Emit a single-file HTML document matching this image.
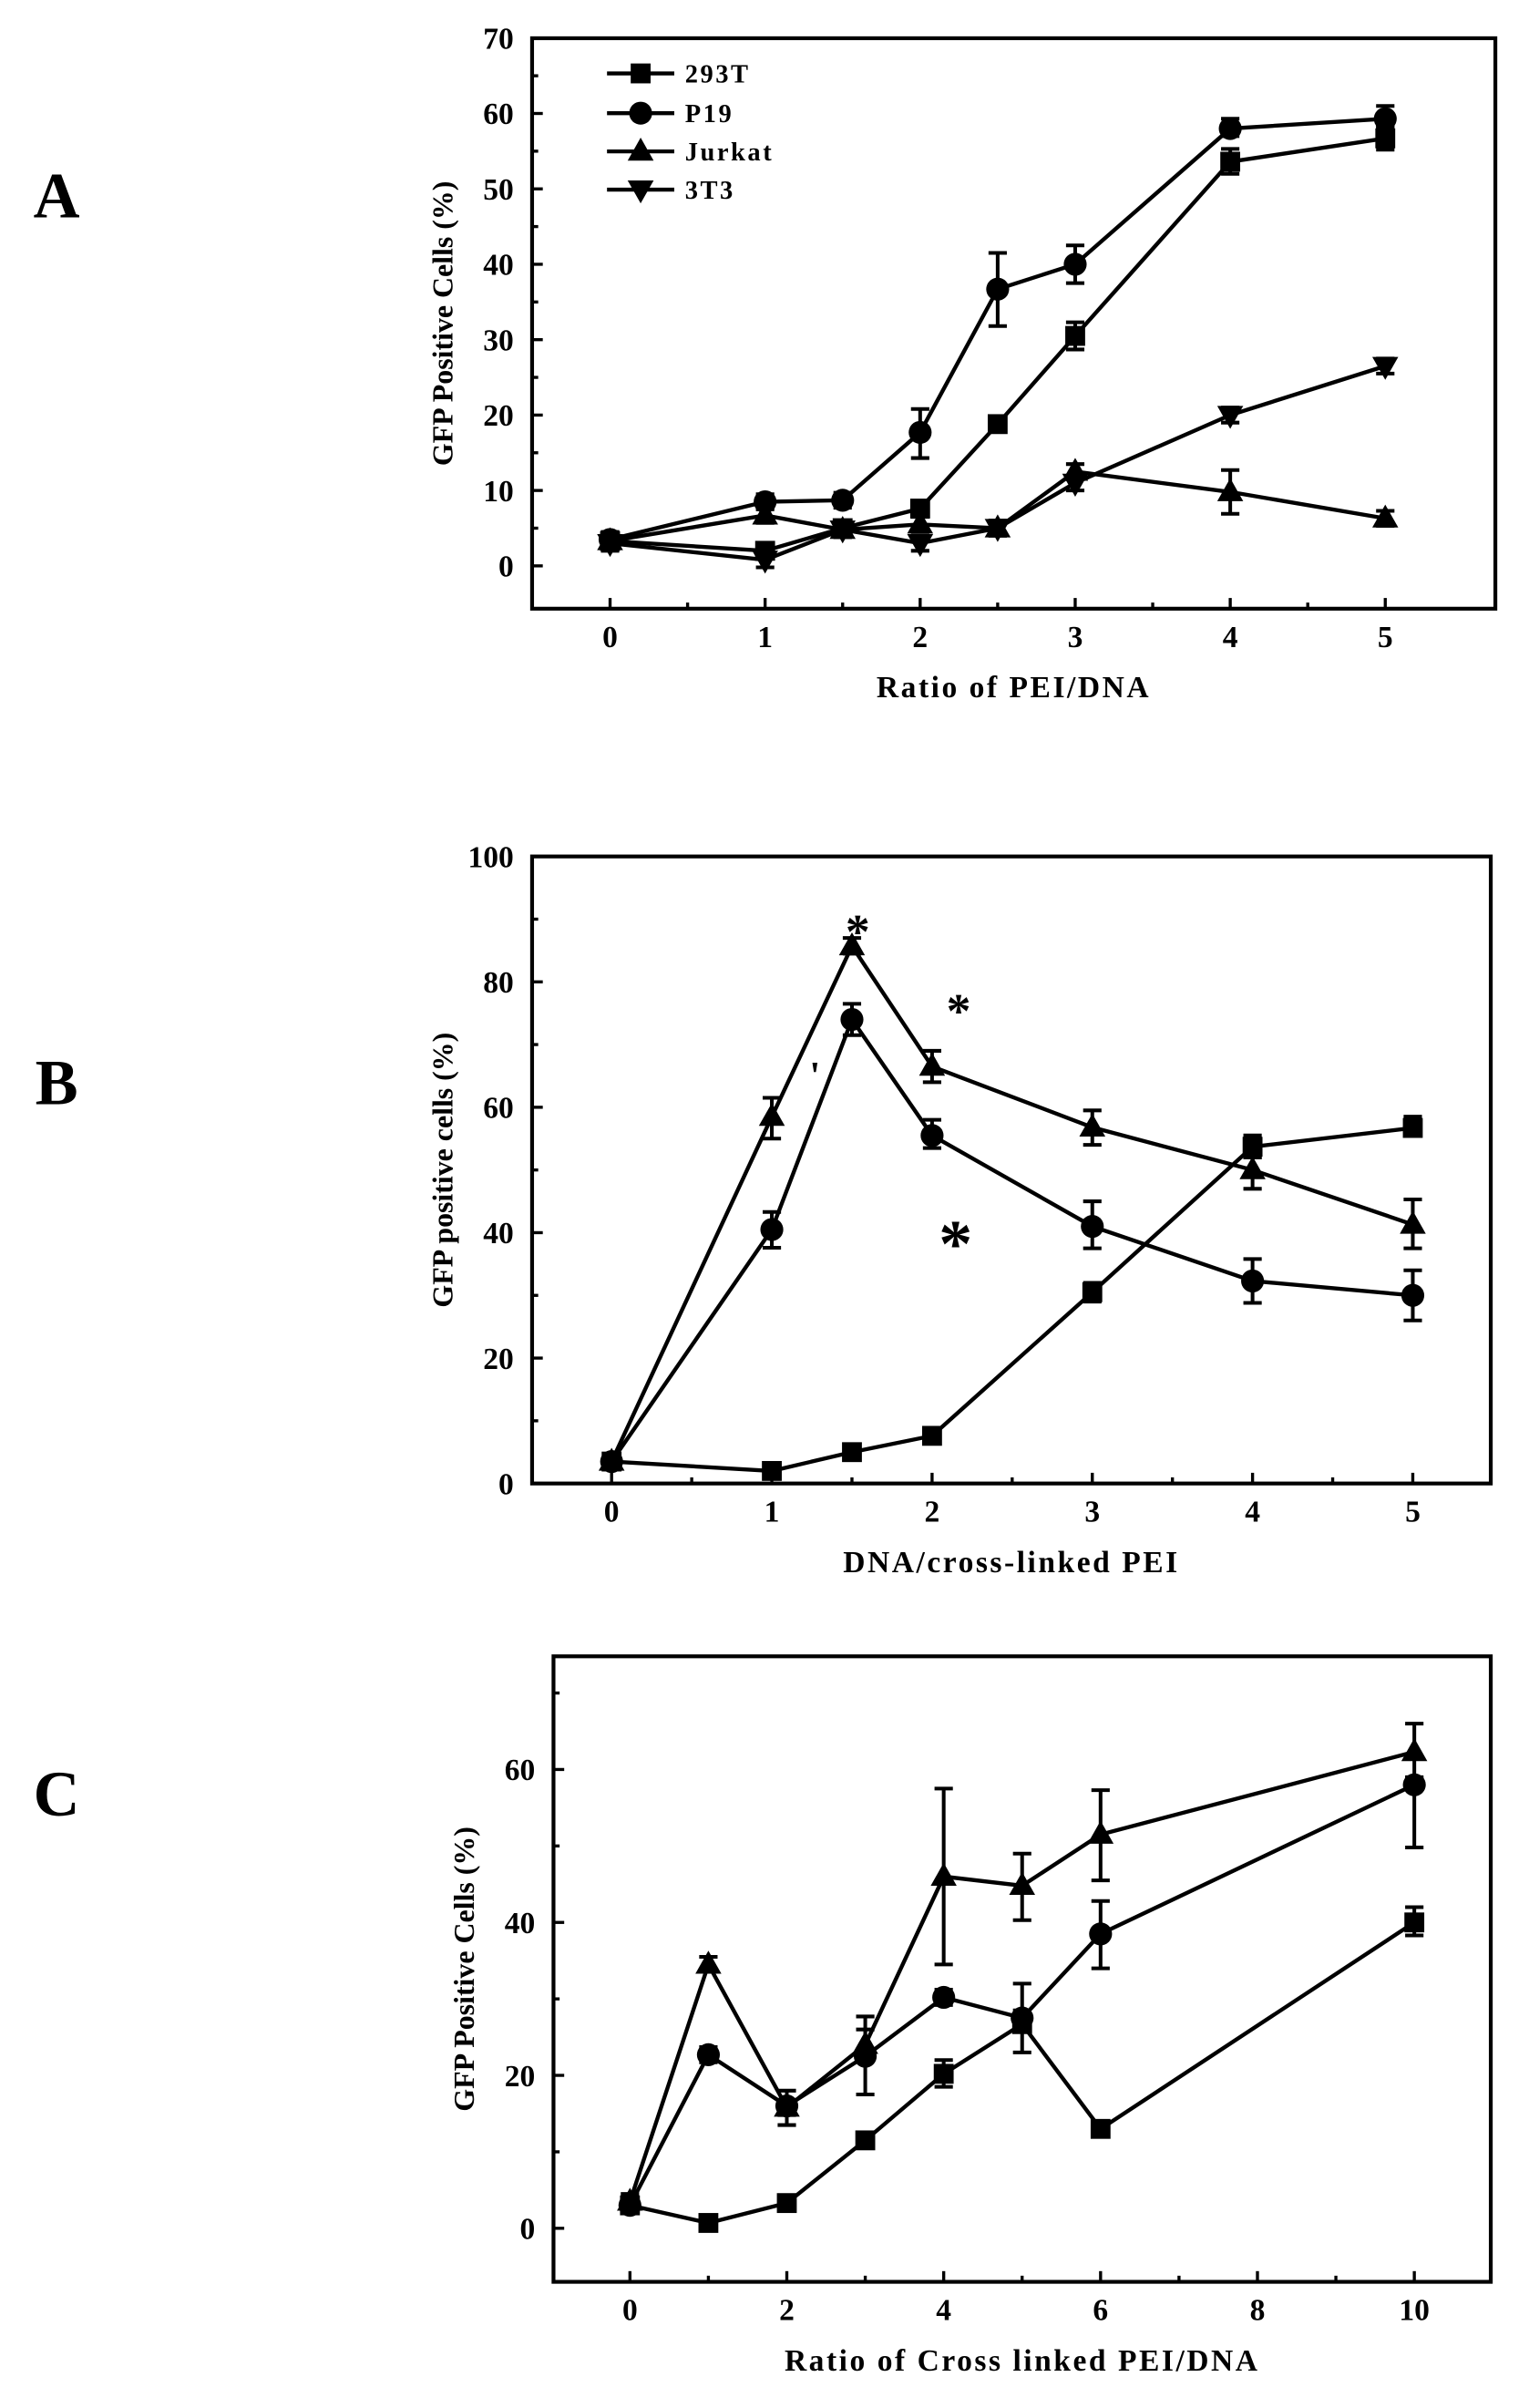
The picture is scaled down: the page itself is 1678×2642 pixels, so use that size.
<!DOCTYPE html>
<html><head><meta charset="utf-8"><style>
html,body{margin:0;padding:0;background:#fff}
svg{display:block}
text{font-family:"Liberation Serif",serif;font-weight:bold;fill:#000}
</style></head><body>
<svg id="s" width="1678" height="2642" viewBox="0 0 1000 1574.5" preserveAspectRatio="none" xmlns="http://www.w3.org/2000/svg">
<rect width="1000" height="1574.5" fill="#fff"/>
<text x="37" y="142" font-size="42" text-anchor="middle">A</text>
<text x="37" y="722" font-size="42" text-anchor="middle">B</text>
<text x="37" y="1187" font-size="42" text-anchor="middle">C</text>
</svg>
<script>
const NS="http://www.w3.org/2000/svg",S=document.getElementById('s');
function el(t,a,txt){const e=document.createElementNS(NS,t);for(const k in a)e.setAttribute(k,a[k]);if(txt!==undefined)e.textContent=txt;S.appendChild(e);return e;}
function marker(type,x,y){
 if(type=='sq')el('rect',{x:x-6.5,y:y-6.5,width:13,height:13,fill:'#000'});
 else if(type=='ci')el('circle',{cx:x,cy:y,r:7.5,fill:'#000'});
 else if(type=='up')el('polygon',{points:`${x},${y-9} ${x-8.5},${y+6} ${x+8.5},${y+6}`,fill:'#000'});
 else el('polygon',{points:`${x},${y+9} ${x-8.5},${y-6} ${x+8.5},${y-6}`,fill:'#000'});
}
function panel(p){
 const X=v=>p.x0+(v-p.xv0)*p.xs, Y=v=>p.y0-v*p.ys;
 el('rect',{x:p.L,y:p.T,width:p.R-p.L,height:p.B-p.T,fill:'none',stroke:'#000','stroke-width':2.5});
 p.yt.forEach(v=>{el('line',{x1:p.L,x2:p.L+7,y1:Y(v),y2:Y(v),stroke:'#000','stroke-width':2});el('text',{x:p.L-12,y:Y(v)+7,'font-size':20,'text-anchor':'end'},v);});
 p.ym.forEach(v=>el('line',{x1:p.L,x2:p.L+4,y1:Y(v),y2:Y(v),stroke:'#000','stroke-width':2}));
 p.xt.forEach(v=>{el('line',{x1:X(v),x2:X(v),y1:p.B,y2:p.B-7,stroke:'#000','stroke-width':2});el('text',{x:X(v),y:p.B+25,'font-size':20,'text-anchor':'middle'},v);});
 p.xm.forEach(v=>el('line',{x1:X(v),x2:X(v),y1:p.B,y2:p.B-4,stroke:'#000','stroke-width':2}));
 el('text',{x:(p.L+p.R)/2,y:p.B+58,'font-size':20,'text-anchor':'middle','letter-spacing':'1.5'},p.xl);
 el('text',{x:0,y:0,'font-size':19,'text-anchor':'middle',transform:`translate(${p.L-52},${(p.T+p.B)/2}) rotate(-90)`},p.yl);
 p.series.forEach(s=>{
  el('polyline',{points:s.d.map(d=>X(d[0])+','+Y(d[1])).join(' '),fill:'none',stroke:'#000','stroke-width':2.6});
  s.d.forEach(d=>{
   const lo=d[2]!==undefined?d[2]:d[1]-1,hi=d[3]!==undefined?d[3]:d[1]+1,x=X(d[0]);
   el('line',{x1:x,x2:x,y1:Y(lo),y2:Y(hi),stroke:'#000','stroke-width':2.4});
   el('line',{x1:x-6,x2:x+6,y1:Y(lo),y2:Y(lo),stroke:'#000','stroke-width':2.4});
   el('line',{x1:x-6,x2:x+6,y1:Y(hi),y2:Y(hi),stroke:'#000','stroke-width':2.4});
   marker(s.m,x,Y(d[1]));
  });
 });
}
panel({L:348,R:978,T:25,B:398,x0:399,xv0:0,xs:101.4,y0:370,ys:4.93,
 yt:[0,10,20,30,40,50,60,70],ym:[5,15,25,35,45,55,65],xt:[0,1,2,3,4,5],xm:[0.5,1.5,2.5,3.5,4.5],
 xl:'Ratio of PEI/DNA',yl:'GFP Positive Cells (%)',
 series:[
 {m:'sq',d:[[0,3.3],[1,2],[1.5,5],[2,7.6],[2.5,18.8],[3,30.5,28.7,32.3],[4,53.6,52,55.3],[5,56.7,55.2,58.2]]},
 {m:'ci',d:[[0,3.5],[1,8.5],[1.5,8.7],[2,17.7,14.3,20.8],[2.5,36.7,31.8,41.5],[3,40,37.5,42.5],[4,58,57,59.3],[5,59.3,58.2,61]]},
 {m:'up',d:[[0,3.3],[1,6.7],[1.5,4.8],[2,5.5],[2.5,5],[3,12.5,11.5,13.5],[4,9.8,6.9,12.7],[5,6.3]]},
 {m:'dn',d:[[0,3],[1,0.8],[1.5,4.8],[2,3],[2.5,5],[3,11],[4,20],[5,26.5]]}
 ]});
[['sq','293T',48],['ci','P19',74],['up','Jurkat',99],['dn','3T3',124]].forEach(r=>{
 el('line',{x1:397,x2:441,y1:r[2],y2:r[2],stroke:'#000','stroke-width':2.6});marker(r[0],419,r[2]);
 el('text',{x:448,y:r[2]+6,'font-size':17,'letter-spacing':'1.5'},r[1]);
});
panel({L:348,R:975,T:560,B:970,x0:400,xv0:0,xs:104.8,y0:970,ys:4.1,
 yt:[0,20,40,60,80,100],ym:[10,30,50,70,90],xt:[0,1,2,3,4,5],xm:[0.5,1.5,2.5,3.5,4.5],
 xl:'DNA/cross-linked PEI',yl:'GFP positive cells (%)',
 series:[
 {m:'sq',d:[[0,3.5],[1,2],[1.5,5],[2,7.6],[3,30.5,29,32],[4,53.7,52,55.5],[5,56.7,55.5,58.5]]},
 {m:'ci',d:[[0,3.5],[1,40.5,37.6,43.3],[1.5,74,71.5,76.5],[2,55.5,53.5,58],[3,41,37.5,45],[4,32.3,28.8,35.8],[5,30,26,34]]},
 {m:'up',d:[[0,3.5],[1,58.5,55,61.5],[1.5,85.7,84.5,87],[2,66.5,64,69],[3,56.8,54,59.5],[4,50,47,52],[5,41.3,37.5,45.3]]}
 ]});
el('text',{x:625,y:828,'font-size':44,'text-anchor':'middle'},'*');
el('text',{x:533,y:712,'font-size':26,'text-anchor':'middle'},"'");
el('text',{x:561,y:620,'font-size':32,'text-anchor':'middle'},'*');
el('text',{x:627,y:672,'font-size':32,'text-anchor':'middle'},'*');
panel({L:362,R:975,T:1083,B:1492,x0:412,xv0:0,xs:51.3,y0:1457,ys:5,
 yt:[0,20,40,60],ym:[10,30,50,70],xt:[0,2,4,6,8,10],xm:[1,3,5,7,9],
 xl:'Ratio of Cross linked PEI/DNA',yl:'GFP Positive Cells (%)',
 series:[
 {m:'sq',d:[[0,3],[1,0.7],[2,3.3],[3,11.5],[4,20.2,18.5,22],[5,26.7,23,32],[6,13],[10,40,38.3,42]]},
 {m:'ci',d:[[0,3],[1,22.7],[2,16,13.5,18],[3,22.5,17.5,27.7],[4,30.2],[5,27.5],[6,38.5,34,42.8],[10,58,49.8,59]]},
 {m:'up',d:[[0,3.5],[1,34.5,33.8,35.5],[2,15.8],[3,24,22,26],[4,46,34.5,57.5],[5,44.8,40.3,49],[6,51.5,45.5,57.3],[10,62.3,58.8,66]]}
 ]});
</script>
</body></html>
